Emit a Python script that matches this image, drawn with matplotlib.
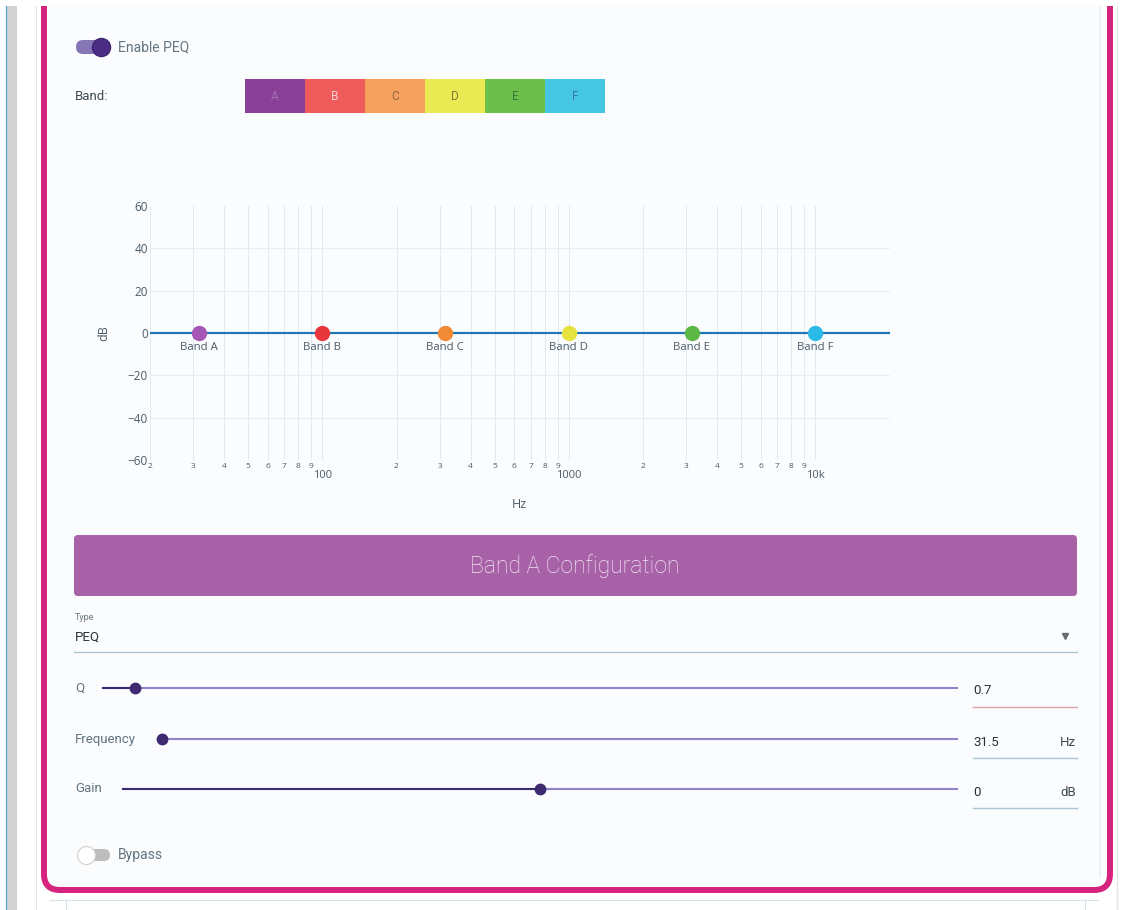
import matplotlib
matplotlib.use("Agg")
from matplotlib import pyplot as plt
from matplotlib.patches import FancyBboxPatch, Rectangle
import numpy as np

# ---- chart data ----
band_names = ["A", "B", "C", "D", "E", "F"]
band_freqs = [31.5, 100, 315, 1000, 3150, 10000]
band_gains = [0, 0, 0, 0, 0, 0]
marker_colors = ["#a457b4", "#e8363c", "#f28a34", "#e6e23e", "#5cb845", "#2bb9e8"]
button_colors = ["#8a3f98", "#ef5b5b", "#f5a05c", "#eaea55", "#6cbf4a", "#45c6e2"]
button_text_colors = ["#a070b0", "#f8d0d0", "#8a6a4a", "#7a7a3a", "#3e7a40", "#3a7aa0"]

response_freqs = [20, 20000]
response_gains = [0, 0]

y_ticks = [-60, -40, -20, 0, 20, 40, 60]
major_ticks = [100, 1000, 10000]
major_labels = ["100", "1000", "10k"]
minor_ticks = [m * d for d in (10, 100, 1000) for m in range(2, 10)]
minor_labels = [str(m) for d in (10, 100, 1000) for m in range(2, 10)]

# ---- band config panel ----
slider_labels = ["Q", "Frequency", "Gain"]
slider_values = [0.7, 31.5, 0]
slider_min = [0.1, 20, -15]
slider_max = [16, 20000, 15]
slider_units = ["", "Hz", "dB"]
slider_text = ["0.7", "31.5", "0"]

UI_FONT = ["Roboto", "DejaVu Sans"]
CHART_FONT = ["Open Sans", "DejaVu Sans"]
W, H = 1134, 910

fig = plt.figure(figsize=(W / 100, H / 100), dpi=100)
fig.patch.set_facecolor("white")

# full-figure axes in pixel coords (y down) for the surrounding page
ui = fig.add_axes([0, 0, 1, 1], zorder=0)
ui.set_xlim(0, W)
ui.set_ylim(H, 0)
ui.axis("off")


def rbox(x0, y0, x1, y1, r, **kw):
    p = FancyBboxPatch((x0 + r, y0 + r), (x1 - x0) - 2 * r, (y1 - y0) - 2 * r,
                       boxstyle="round,pad=%f" % r, **kw)
    ui.add_patch(p)
    return p


# page chrome
ui.add_patch(Rectangle((6, 6), 11, H, color="#d2d2d2", lw=0))
ui.plot([6, 6], [6, H], color="#5aa8d8", lw=0.9)
ui.plot([36, 36], [6, H], color="#e2e6ea", lw=0.8)
ui.plot([1117, 1117], [6, H], color="#e2e5e8", lw=1.0)
ui.plot([50, 1098], [900, 900], color="#d8e2ea", lw=0.8)
ui.plot([66, 66], [900, H], color="#d8e2ea", lw=0.8)
ui.plot([1085, 1085], [900, H], color="#d8e2ea", lw=0.8)

# card with magenta outline
rbox(44, -40, 1110, 890, 16, fc="#fbfcfd", ec="#d6247e", lw=4.3)
ui.plot([1100, 1100], [6, 876], color="#eceef0", lw=1.2)
ui.add_patch(Rectangle((0, 0), W, 6, color="white", lw=0, zorder=5))

# enable toggle
rbox(76, 40, 108, 54, 7, fc="#8776b6", ec="none")
ui.plot([101], [47], "o", ms=13, color="#4b2d85", mec="#3e2570")
ui.text(118, 47, "Enable PEQ", fontsize=10, color="#627581", va="center", family=UI_FONT)

# band selector
ui.text(75, 96, "Band:", fontsize=9.5, color="#3d4a52", va="center", family=UI_FONT)
for i, name in enumerate(band_names):
    x0 = 245 + i * 60
    ui.add_patch(Rectangle((x0, 79), 60, 34, color=button_colors[i], lw=0))
    ui.text(x0 + 30, 96, name, fontsize=8.5, color=button_text_colors[i],
            ha="center", va="center", family=UI_FONT)

# ---- PEQ chart ----
ax = fig.add_axes([150 / W, 1 - 460 / H, 739.5 / W, 254 / H], zorder=1)
ax.set_facecolor("none")
ax.set_xscale("log")
ax.set_xlim(20, 20000)
ax.set_ylim(-60, 60)
for s in ax.spines.values():
    s.set_visible(False)

for f in minor_ticks + major_ticks:
    ax.axvline(f, color="#dfe9f1", lw=0.7, zorder=0)
for yv in y_ticks:
    if yv not in (-60, 0, 60):
        ax.axhline(yv, color="#e8edf1", lw=0.8, zorder=0)

ax.plot(response_freqs, response_gains, color="#1f77b4", lw=1.6, zorder=2)
for i, name in enumerate(band_names):
    ax.plot(band_freqs[i], band_gains[i], "o", ms=10, color=marker_colors[i],
            mec=marker_colors[i], zorder=3)
    ax.annotate("Band " + name, (band_freqs[i], band_gains[i]), xytext=(0, -10.5),
                textcoords="offset points", ha="center", va="center",
                fontsize=8.2, color="#4a5a68", family=CHART_FONT)

ax.set_yticks(y_ticks)
ax.set_yticklabels([str(v).replace("-", "\u2212") for v in y_ticks])
ax.tick_params(axis="y", length=0, pad=1.5, labelsize=8.5, labelcolor="#4a5a68")
ax.set_xticks(major_ticks)
ax.set_xticklabels(major_labels)
ax.set_xticks(minor_ticks, minor=True)
ax.set_xticklabels(minor_labels, minor=True)
ax.tick_params(axis="x", which="major", length=0, pad=7.5, labelsize=8, labelcolor="#4a5a68")
ax.tick_params(axis="x", which="minor", length=0, pad=2.5, labelsize=6, labelcolor="#4a5a68")
for lab in ax.get_xticklabels(which="both") + ax.get_yticklabels():
    lab.set_family(CHART_FONT)

ax.set_ylabel("dB", fontsize=9, color="#4a5a68", family=CHART_FONT)
ax.yaxis.set_label_coords((110 - 150) / 739.5, 0.5)
ax.set_xlabel("Hz", fontsize=9, color="#4a5a68", family=CHART_FONT)
ax.xaxis.set_label_coords(0.5, (460 - 504) / 254)
ax.xaxis.label.set_va("center")

# ---- band configuration panel ----
rbox(74, 535, 1077, 596, 4, fc="#a862a8", ec="none")
ui.text(575, 566, "Band A Configuration", fontsize=16.5, color="#f3e4f3",
        ha="center", va="center", family=UI_FONT, fontweight="light")

ui.text(75, 618, "Type", fontsize=6.5, color="#6a7880", va="center", family=UI_FONT)
ui.text(75, 637, "PEQ", fontsize=9.5, color="#2a3035", va="center", family=UI_FONT)
ui.plot([74, 1077], [652, 652], color="#a9bfcc", lw=0.9)
ui.plot([1065], [636], marker="v", ms=4, color="#666c70")

track_x0 = [103, 162, 123]
track_y = [688, 739, 789]
field_line = ["#dba3ab", "#a9c4d4", "#a9c4d4"]
for i, lab in enumerate(slider_labels):
    y = track_y[i]
    x0, x1 = track_x0[i], 957
    frac = (slider_values[i] - slider_min[i]) / (slider_max[i] - slider_min[i])
    xt = x0 + frac * (x1 - x0)
    ui.text(75, y, lab, fontsize=9.5, color="#627581", va="center", family=UI_FONT)
    ui.plot([x0, xt], [y, y], color="#3d2a70", lw=1.5)
    ui.plot([xt, x1], [y, y], color="#9383c8", lw=1.5)
    ui.plot([xt], [y], "o", ms=7.5, color="#3d2a70")
    ui.text(973, y + 3, slider_text[i], fontsize=9.5, color="#2a3035", va="center",
            family=UI_FONT)
    if slider_units[i]:
        ui.text(1076, y + 3, slider_units[i], fontsize=9.5, color="#3d4a52",
                ha="right", va="center", family=UI_FONT)
    ui.plot([973, 1077], [y + 19, y + 19], color=field_line[i], lw=1.0)

# bypass toggle
rbox(80, 849, 110, 861, 6, fc="#bdbdbd", ec="none")
ui.plot([86], [855], "o", ms=13, color="white", mec="#d0d0d0", mew=0.8)
ui.text(118, 855, "Bypass", fontsize=10, color="#627581", va="center", family=UI_FONT)

fig.savefig("out.png", dpi=100)
